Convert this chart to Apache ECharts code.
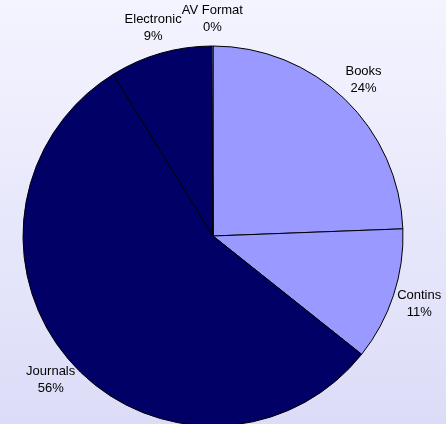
<!DOCTYPE html>
<html>
<head>
<meta charset="utf-8">
<script src="https://cdn.jsdelivr.net/npm/echarts@6/dist/echarts.min.js"></script>
<style>
html,body{margin:0;padding:0;}
#c{width:446px;height:424px;background:linear-gradient(#F4F4FF,#DCDCF8);}
</style>
</head>
<body>
<div id="c"></div>
<script>
var categories = ['Books', 'Contins', 'Journals', 'Electronic', 'AV Format'];
var values = [24.4, 11.3, 55.5, 8.7, 0.1];
var colors = ['#9999FF', '#9999FF', '#000066', '#000066', '#9999FF'];

var data = categories.map(function (n, i) {
  return { name: n, value: values[i], itemStyle: { color: colors[i] } };
});

var chart = echarts.init(document.getElementById('c'), null, { renderer: 'canvas' });
chart.setOption({
  animation: false,
  series: [
    {
      type: 'pie',
      center: [213, 236],
      radius: [0, 190],
      startAngle: 90,
      clockwise: true,
      silent: true,
      label: { show: false },
      labelLine: { show: false },
      itemStyle: { borderColor: '#000', borderWidth: 1 },
      data: data
    },
    {
      type: 'pie',
      center: [213, 236],
      radius: [194, 234],
      startAngle: 90,
      clockwise: true,
      silent: true,
      percentPrecision: 0,
      z: 5,
      itemStyle: { color: 'rgba(0,0,0,0)', borderWidth: 0 },
      label: {
        show: true,
        position: 'inside',
        formatter: '{b}\n{d}%',
        fontFamily: 'Liberation Sans, Arial, sans-serif',
        fontSize: 13,
        lineHeight: 17,
        color: '#000',
        align: 'center'
      },
      labelLine: { show: false },
      data: categories.map(function (n, i) { return { name: n, value: values[i] }; })
    }
  ]
});
</script>
</body>
</html>
